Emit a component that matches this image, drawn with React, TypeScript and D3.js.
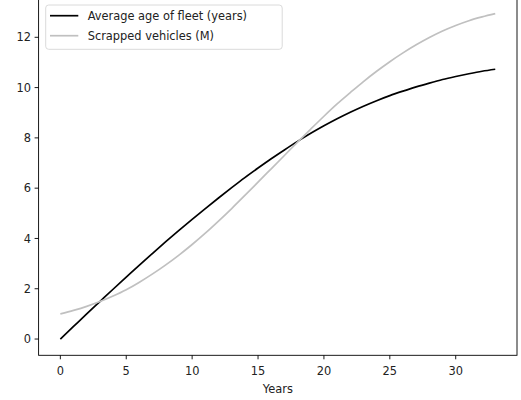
import { line, curveMonotoneX, scaleLinear } from 'd3';

const years = Array.from({ length: 34 }, (_, i) => i);

const averageAge = [
  0, 0.5, 1.0, 1.49, 1.98, 2.46, 2.94, 3.41, 3.87, 4.32, 4.76, 5.19, 5.61, 6.02,
  6.42, 6.8, 7.17, 7.52, 7.86, 8.18, 8.48, 8.76, 9.02, 9.26, 9.48, 9.68, 9.86,
  10.03, 10.18, 10.32, 10.44, 10.55, 10.65, 10.73,
];

const scrapped = [
  1.0, 1.14, 1.3, 1.49, 1.71, 1.96, 2.26, 2.59, 2.95, 3.34, 3.76, 4.21, 4.69,
  5.19, 5.71, 6.24, 6.77, 7.3, 7.83, 8.35, 8.86, 9.35, 9.8, 10.24, 10.65, 11.03,
  11.38, 11.7, 11.99, 12.25, 12.47, 12.66, 12.81, 12.94,
];

const xTicks = [0, 5, 10, 15, 20, 25, 30];
const yTicks = [0, 2, 4, 6, 8, 10, 12];

const seriesNames = ['Average age of fleet (years)', 'Scrapped vehicles (M)'];
const seriesColors = ['#000000', '#c0c0c0'];

const FONT = 'DejaVu Sans, sans-serif';

export default function App() {
  const width = 521;
  const height = 400;
  const plot = { left: 38.6, right: 517, top: -2.6, bottom: 355.3 };

  const xMin = 0;
  const xMax = 33;
  const xPad = (xMax - xMin) * 0.05;
  const yMin = 0;
  const yMax = Math.max(...scrapped, ...averageAge);
  const yPad = (yMax - yMin) * 0.05;

  const x = scaleLinear()
    .domain([xMin - xPad, xMax + xPad])
    .range([plot.left, plot.right]);
  const y = scaleLinear()
    .domain([yMin - yPad, yMax + yPad])
    .range([plot.bottom, plot.top]);

  const path = line<number>()
    .x((_, i) => x(years[i]))
    .y((d) => y(d))
    .curve(curveMonotoneX);

  const series = [averageAge, scrapped];

  return (
    <svg
      width={width}
      height={height}
      style={{ position: 'absolute', left: 0, top: 0, background: '#fff' }}
      fontFamily={FONT}
    >
      {series.map((values, i) => (
        <path
          key={seriesNames[i]}
          d={path(values) ?? ''}
          fill="none"
          stroke={seriesColors[i]}
          strokeWidth={1.7}
        />
      ))}

      {/* spines */}
      <rect
        x={plot.left}
        y={plot.top}
        width={plot.right - plot.left}
        height={plot.bottom - plot.top}
        fill="none"
        stroke="#000"
        strokeWidth={0.9}
      />

      {/* x axis */}
      {xTicks.map((t) => (
        <g key={`x-${t}`} transform={`translate(${x(t)}, ${plot.bottom})`}>
          <line y2={4} stroke="#000" strokeWidth={0.9} />
          <text y={19.5} textAnchor="middle" fontSize={11.4} fill="#222">
            {t}
          </text>
        </g>
      ))}
      <text
        x={(plot.left + plot.right) / 2}
        y={393}
        textAnchor="middle"
        fontSize={11.4}
        fill="#222"
      >
        Years
      </text>

      {/* y axis */}
      {yTicks.map((t) => (
        <g key={`y-${t}`} transform={`translate(${plot.left}, ${y(t)})`}>
          <line x2={-4} stroke="#000" strokeWidth={0.9} />
          <text
            x={-7.5}
            dy="0.36em"
            textAnchor="end"
            fontSize={11.4}
            fill="#222"
          >
            {t}
          </text>
        </g>
      ))}

      {/* legend */}
      <g>
        <rect
          x={45.7}
          y={5}
          width={236.5}
          height={44.3}
          rx={3}
          fill="#fff"
          fillOpacity={0.8}
          stroke="#d6d6d6"
          strokeWidth={0.9}
        />
        {seriesNames.map((name, i) => (
          <g key={`legend-${name}`} transform={`translate(50, ${15.7 + i * 20})`}>
            <line x2={28.3} stroke={seriesColors[i]} strokeWidth={1.7} />
            <text x={37.7} dy="0.36em" fontSize={11.4} fill="#222">
              {name}
            </text>
          </g>
        ))}
      </g>
    </svg>
  );
}
